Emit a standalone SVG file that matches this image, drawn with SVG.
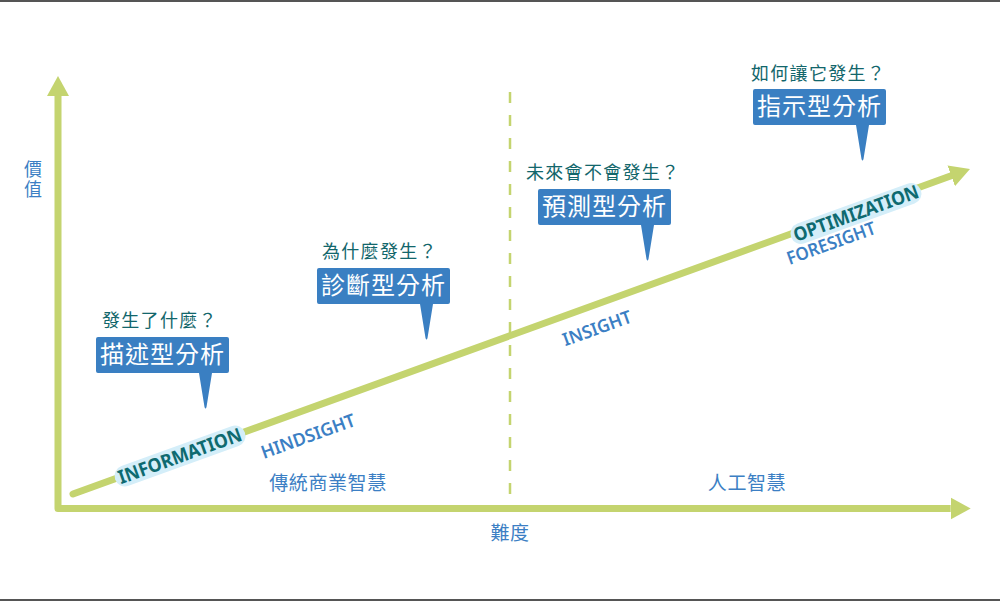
<svg xmlns="http://www.w3.org/2000/svg" width="1000" height="601" viewBox="0 0 1000 601">
  <style>
    .axis { fill: none; stroke: #c4d46f; stroke-width: 7; }
    .dash { fill: none; stroke: #c4d46f; stroke-width: 2.5; stroke-dasharray: 11 12; }
    .box { fill: #3a7fc2; }
    .boxtxt { font-family: "Noto Sans CJK TC", "Noto Sans CJK SC", sans-serif; font-size: 24px; fill: #ffffff; text-anchor: middle; letter-spacing: 1px; }
    .q { font-family: "Noto Sans CJK TC", "Noto Sans CJK SC", sans-serif; font-size: 18px; fill: #12666b; letter-spacing: 1.3px; }
    .lbl { font-family: "Noto Sans CJK TC", "Noto Sans CJK SC", sans-serif; font-size: 19px; fill: #3c7fc4; text-anchor: middle; letter-spacing: 0.6px; }
    .vlbl { font-family: "Noto Sans CJK TC", "Noto Sans CJK SC", sans-serif; font-size: 18px; fill: #3c7fc4; writing-mode: tb; letter-spacing: 2px; }
    .pill { fill: #d4eef9; }
    .teal { font-family: "Noto Sans", "DejaVu Sans", sans-serif; font-weight: 700; font-size: 19px; fill: #0e6a70; text-anchor: middle; }
    .blue { font-family: "Noto Sans", "DejaVu Sans", sans-serif; font-weight: 600; font-size: 18px; fill: #3c7fc4; text-anchor: middle; }
    .frame { stroke: #555555; stroke-width: 2; }
  </style>
  <defs>
    <marker id="head" markerUnits="userSpaceOnUse" markerWidth="22" markerHeight="24" viewBox="0 -12 22 24" refX="0" refY="0" orient="auto-start-reverse">
      <path d="M0,-11 L20,0 L0,11 Z" fill="#c4d46f"/>
    </marker>
    <path id="callout" d="M2,0 H131 Q133,0 133,2 V34 Q133,36 131,36 H116 L110.5,70 Q109.5,73 108.5,70 L103,36 H2 Q0,36 0,34 V2 Q0,0 2,0 Z"/>
  </defs>

  <rect width="1000" height="601" fill="#ffffff"/>
  <line class="frame" x1="0" y1="1" x2="1000" y2="1"/>
  <line class="frame" x1="0" y1="600" x2="1000" y2="600"/>

  <g id="connectors">
    <path class="dash" d="M510,92 V505"/>
    <path class="axis" d="M58,96 V508.5 H950.7" stroke-linejoin="round" marker-start="url(#head)" marker-end="url(#head)"/>
    <path class="axis" d="M73,494 L951.2,175.8" stroke-linecap="round" marker-end="url(#head)"/>
  </g>

  <g id="label-value">
    <text class="vlbl" x="33" y="160">價值</text>
  </g>
  <g id="label-difficulty"><text class="lbl" x="510" y="540">難度</text></g>
  <g id="label-bi"><text class="lbl" x="328" y="490">傳統商業智慧</text></g>
  <g id="label-ai"><text class="lbl" x="747" y="490">人工智慧</text></g>

  <g id="stage-information" transform="translate(180,456) rotate(-19.9)">
    <rect class="pill" x="-69" y="-10.5" width="138" height="21" rx="10.5"/>
    <text class="teal" x="0" y="6.5" textLength="130" lengthAdjust="spacingAndGlyphs">INFORMATION</text>
  </g>
  <g id="stage-hindsight" transform="translate(308,436) rotate(-19.9)">
    <text class="blue" x="0" y="6.5" textLength="99" lengthAdjust="spacingAndGlyphs">HINDSIGHT</text>
  </g>
  <g id="stage-insight" transform="translate(597,328) rotate(-19.9)">
    <text class="blue" x="0" y="6.5" textLength="72" lengthAdjust="spacingAndGlyphs">INSIGHT</text>
  </g>
  <g id="stage-optimization" transform="translate(856,213.5) rotate(-19.9)">
    <rect class="pill" x="-69" y="-10.5" width="138" height="21" rx="10.5"/>
    <text class="teal" x="0" y="6.5" textLength="132" lengthAdjust="spacingAndGlyphs">OPTIMIZATION</text>
  </g>
  <g id="stage-foresight" transform="translate(831,243) rotate(-19.9)">
    <text class="blue" x="0" y="6.5" textLength="93" lengthAdjust="spacingAndGlyphs">FORESIGHT</text>
  </g>

  <g id="node-descriptive">
    <text class="q" x="102" y="327">發生了什麼？</text>
    <use href="#callout" class="box" transform="translate(96,337)"/>
    <text class="boxtxt" x="162.5" y="363">描述型分析</text>
  </g>
  <g id="node-diagnostic">
    <text class="q" x="322" y="258">為什麼發生？</text>
    <use href="#callout" class="box" transform="translate(317,268)"/>
    <text class="boxtxt" x="383.5" y="294">診斷型分析</text>
  </g>
  <g id="node-predictive">
    <text class="q" x="526" y="179">未來會不會發生？</text>
    <use href="#callout" class="box" transform="translate(538,189)"/>
    <text class="boxtxt" x="604.5" y="215">預測型分析</text>
  </g>
  <g id="node-prescriptive">
    <text class="q" x="751" y="80">如何讓它發生？</text>
    <use href="#callout" class="box" transform="translate(753,89)"/>
    <text class="boxtxt" x="819.5" y="115">指示型分析</text>
  </g>
</svg>
